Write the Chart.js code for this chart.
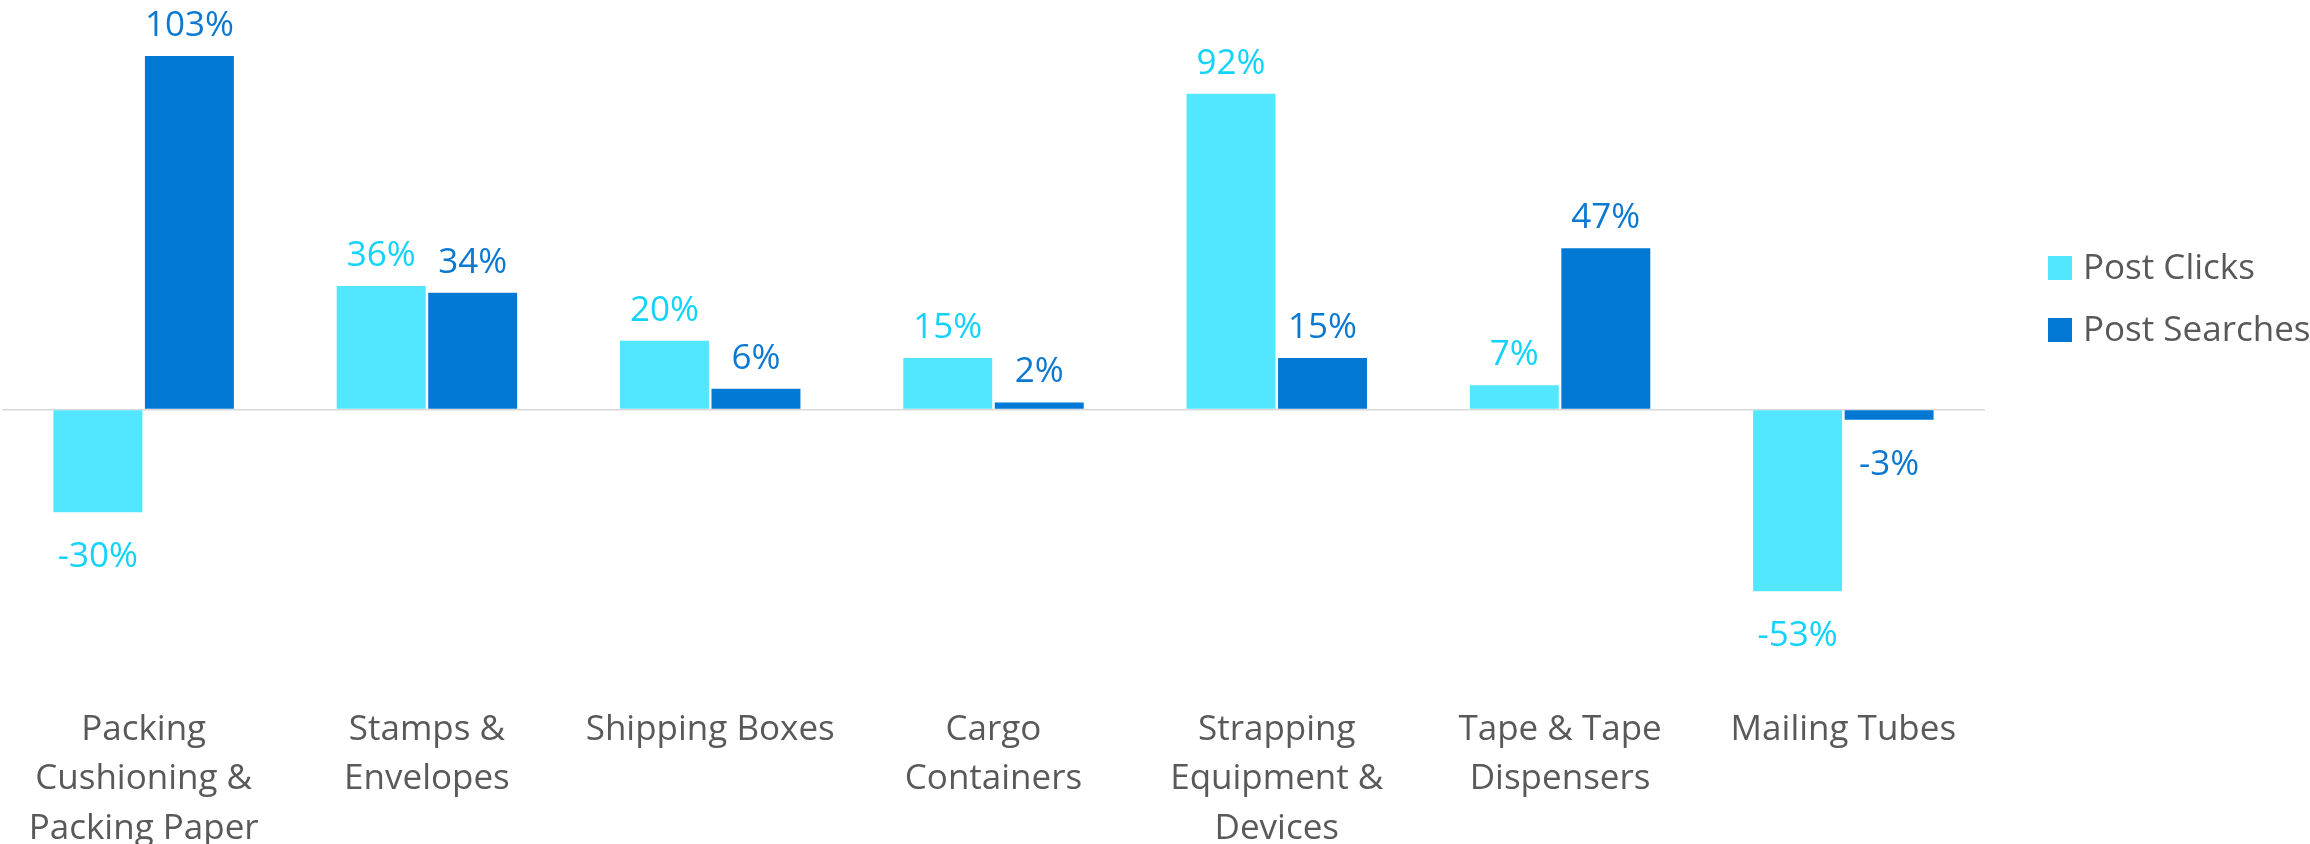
<!DOCTYPE html>
<html>
<head>
<meta charset="utf-8">
<script src="https://cdn.jsdelivr.net/npm/chart.js@4.4.1/dist/chart.umd.min.js"></script>
<style>
  html, body { margin: 0; padding: 0; background: #ffffff; }
  #chart-wrapper { width: 2310px; height: 844px; }
</style>
</head>
<body>
<div id="chart-wrapper"><canvas id="growth-chart"></canvas></div>
<script>
const categories = [
  ['Packing', 'Cushioning &', 'Packing Paper'],
  ['Stamps &', 'Envelopes'],
  ['Shipping Boxes'],
  ['Cargo', 'Containers'],
  ['Strapping', 'Equipment &', 'Devices'],
  ['Tape & Tape', 'Dispensers'],
  ['Mailing Tubes']
]
const postClicks = [-30, 36, 20, 15, 92, 7, -53]
const postSearches = [103, 34, 6, 2, 15, 47, -3]

const clicksColor = '#52E6FF'
const searchesColor = '#0078D4'
const textGrey = '#595959'
const fontFamily = '"Open Sans", "Noto Sans", sans-serif'
const fontSize = 35

// value labels above positive bars and below negative ones
const valueLabels = {
  id: 'valueLabels',
  afterDatasetsDraw(chart) {
    const ctx = chart.ctx
    ctx.save()
    ctx.font = `${fontSize}px ${fontFamily}`
    ctx.textAlign = 'center'
    ctx.textBaseline = 'middle'
    chart.data.datasets.forEach((ds, i) => {
      const meta = chart.getDatasetMeta(i)
      ctx.fillStyle = ds.labelColor
      meta.data.forEach((bar, j) => {
        const v = ds.data[j]
        const y = v >= 0 ? bar.y - 30 : bar.y + 45
        ctx.fillText(v + '%', bar.x, y)
      })
    })
    ctx.restore()
  }
}

// legend on the right, stacked
const sideLegend = {
  id: 'sideLegend',
  afterDraw(chart) {
    const ctx = chart.ctx
    ctx.save()
    ctx.font = `${fontSize}px ${fontFamily}`
    ctx.textAlign = 'left'
    ctx.textBaseline = 'middle'
    chart.data.datasets.forEach((ds, i) => {
      const top = 256 + i * 62
      ctx.fillStyle = ds.backgroundColor
      ctx.fillRect(2048, top, 24, 24)
      ctx.fillStyle = textGrey
      ctx.fillText(ds.label, 2083, top + 13)
    })
    ctx.restore()
  }
}

const growthChart = new Chart(document.getElementById('growth-chart'), {
  type: 'bar',
  data: {
    labels: categories,
    datasets: [
      {
        label: 'Post Clicks',
        data: postClicks,
        backgroundColor: clicksColor,
        labelColor: '#12D3FA',
        categoryPercentage: 0.646,
        barPercentage: 0.972
      },
      {
        label: 'Post Searches',
        data: postSearches,
        backgroundColor: searchesColor,
        labelColor: '#0B78D2',
        categoryPercentage: 0.646,
        barPercentage: 0.972
      }
    ]
  },
  options: {
    responsive: true,
    maintainAspectRatio: false,
    animation: false,
    layout: {
      padding: { top: 32, left: 2, right: 325, bottom: 0 }
    },
    plugins: {
      legend: { display: false },
      tooltip: { enabled: false }
    },
    scales: {
      x: {
        grid: { display: false },
        border: { display: false },
        ticks: {
          color: textGrey,
          padding: -4,
          maxRotation: 0,
          autoSkip: false,
          font: { family: fontFamily, size: fontSize, lineHeight: '49.5px' }
        },
        afterFit: (scale) => {
          scale.height = 143
        }
      },
      y: {
        min: -85,
        max: 110,
        border: { display: false },
        ticks: { display: false },
        grid: {
          drawTicks: false,
          lineWidth: 1.5,
          color: (c) => c.tick && c.tick.value === 0 ? '#D9D9D9' : 'rgba(0,0,0,0)'
        }
      }
    }
  },
  plugins: [valueLabels, sideLegend]
})
</script>
</body>
</html>
